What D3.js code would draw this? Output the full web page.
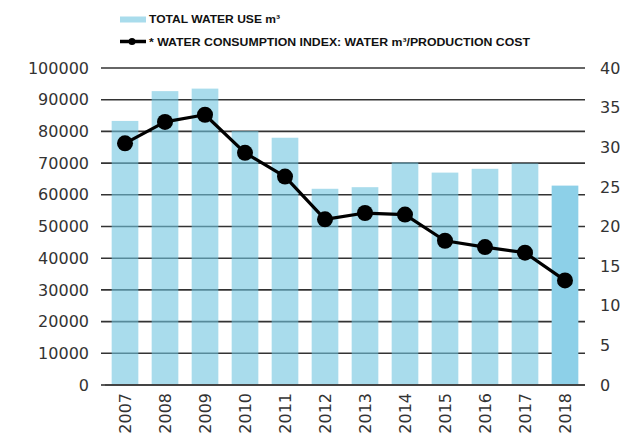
<!DOCTYPE html>
<html>
<head>
<meta charset="utf-8">
<script src="https://cdn.jsdelivr.net/npm/d3@7"></script>
<style>
  html, body { margin: 0; padding: 0; background: #fff; }
  svg { display: block; }
</style>
</head>
<body>
<svg id="chart" width="626" height="440"></svg>
<script>
const years = ["2007","2008","2009","2010","2011","2012","2013","2014","2015","2016","2017","2018"];
const waterUse = [83300, 92700, 93500, 80100, 78000, 61900, 62400, 70200, 67000, 68200, 69900, 62900];
const consumptionIndex = [30.5, 33.2, 34.1, 29.3, 26.3, 20.9, 21.7, 21.5, 18.2, 17.4, 16.7, 13.2];
const leftTicks = [0, 10000, 20000, 30000, 40000, 50000, 60000, 70000, 80000, 90000, 100000];
const rightTicks = [0, 5, 10, 15, 20, 25, 30, 35, 40];
const legendLabels = ["TOTAL WATER USE m\u00B3", "* WATER CONSUMPTION INDEX: WATER m\u00B3/PRODUCTION COST"];

const svg = d3.select("#chart");
const mLeft = 105, mRight = 585, mTop = 68, mBottom = 385;

const x = d3.scaleBand().domain(years).range([mLeft, mRight]).paddingInner(0.333).paddingOuter(0.1667);
const yL = d3.scaleLinear().domain([0, 100000]).range([mBottom, mTop]);
const yR = d3.scaleLinear().domain([0, 40]).range([mBottom, mTop]);

const tickFont = "DejaVu Sans, Verdana, sans-serif";

// gridlines
svg.append("g").selectAll("line").data(leftTicks.filter(d => d > 0)).join("line")
  .attr("x1", 101).attr("x2", mRight)
  .attr("y1", d => yL(d)).attr("y2", d => yL(d))
  .attr("stroke", "#333").attr("stroke-width", 1.6);
svg.append("line").attr("x1", 101).attr("x2", mLeft).attr("y1", yL(0)).attr("y2", yL(0))
  .attr("stroke", "#333").attr("stroke-width", 1.6);

// bars
svg.append("g").selectAll("rect").data(years).join("rect")
  .attr("x", d => x(d))
  .attr("width", x.bandwidth())
  .attr("y", (d, i) => yL(waterUse[i]))
  .attr("height", (d, i) => yL(0) - yL(waterUse[i]))
  .attr("fill", (d, i) => i === years.length - 1 ? "#8dd0e8" : "rgb(112,197,223)")
  .attr("fill-opacity", (d, i) => i === years.length - 1 ? 1 : 0.6);

// baseline
svg.append("line").attr("x1", mLeft).attr("x2", mRight).attr("y1", mBottom).attr("y2", mBottom)
  .attr("stroke", "#444").attr("stroke-width", 1.8);

// left axis labels
const axL = d3.axisLeft(yL).tickValues(leftTicks).tickSize(0).tickPadding(0).tickFormat(d3.format("d"));
const gL = svg.append("g").attr("transform", "translate(89,0)").call(axL);
gL.select(".domain").remove();
gL.selectAll("text").attr("font-family", tickFont).attr("font-size", 16).attr("fill", "#333");

// right axis labels
const axR = d3.axisRight(yR).tickValues(rightTicks).tickSize(0).tickPadding(0);
const gR = svg.append("g").attr("transform", "translate(600,0)").call(axR);
gR.select(".domain").remove();
gR.selectAll("text").attr("font-family", tickFont).attr("font-size", 16).attr("fill", "#333");

// x axis labels
const axX = d3.axisBottom(x).tickSize(0).tickPadding(0);
const gX = svg.append("g").attr("transform", `translate(0,${mBottom})`).call(axX);
gX.select(".domain").remove();
gX.selectAll("text")
  .attr("font-family", tickFont).attr("font-size", 16).attr("fill", "#333")
  .attr("transform", "rotate(-90)")
  .attr("text-anchor", "end")
  .attr("x", -8).attr("y", 0).attr("dy", "0.36em");

// line series
const cx = d => x(d) + x.bandwidth() / 2;
const line = d3.line().x((d, i) => cx(years[i])).y(d => yR(d));
svg.append("path").datum(consumptionIndex)
  .attr("d", line).attr("fill", "none").attr("stroke", "#000").attr("stroke-width", 3.2)
  .attr("stroke-linejoin", "round");
svg.append("g").selectAll("circle").data(consumptionIndex).join("circle")
  .attr("cx", (d, i) => cx(years[i])).attr("cy", d => yR(d)).attr("r", 8).attr("fill", "#000");

// legend
const lg = svg.append("g");
lg.append("rect").attr("x", 120).attr("y", 16.5).attr("width", 26).attr("height", 6).attr("fill", "#a9dcec");
lg.append("text").attr("x", 149).attr("y", 23).text(legendLabels[0])
  .attr("font-family", "Liberation Sans, Arial, sans-serif").attr("font-weight", "bold").attr("font-size", 11)
  .attr("fill", "#111").attr("textLength", 131).attr("lengthAdjust", "spacingAndGlyphs");
lg.append("line").attr("x1", 120).attr("x2", 146).attr("y1", 41.5).attr("y2", 41.5).attr("stroke", "#000").attr("stroke-width", 3.5);
lg.append("circle").attr("cx", 132).attr("cy", 41.5).attr("r", 3.5).attr("fill", "#000");
lg.append("text").attr("x", 149).attr("y", 46).text(legendLabels[1])
  .attr("font-family", "Liberation Sans, Arial, sans-serif").attr("font-weight", "bold").attr("font-size", 11)
  .attr("fill", "#111").attr("textLength", 381).attr("lengthAdjust", "spacingAndGlyphs");
</script>
</body>
</html>
